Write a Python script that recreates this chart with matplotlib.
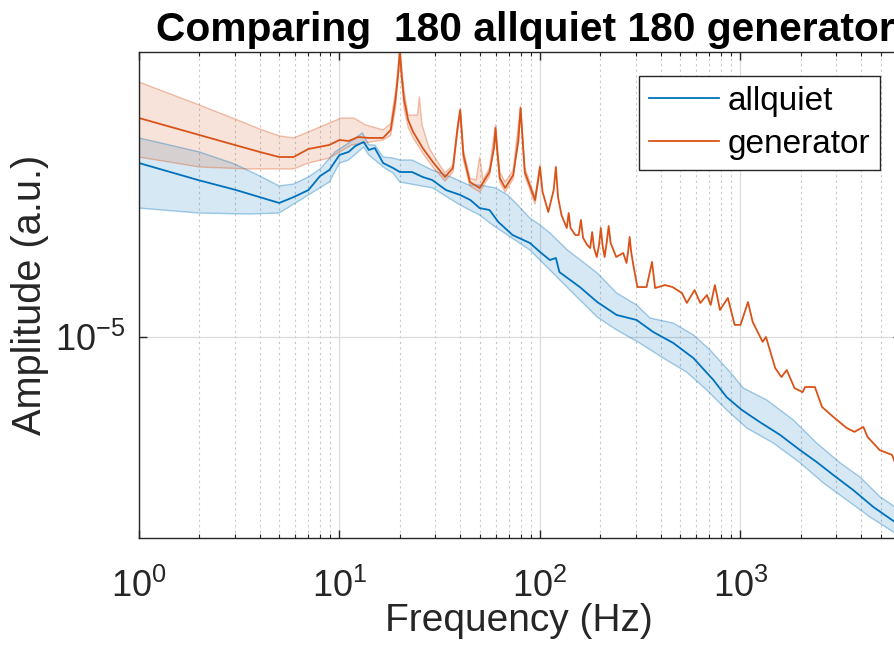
import numpy as np
import matplotlib
matplotlib.use("Agg")
import matplotlib.pyplot as plt
from matplotlib.ticker import LogLocator, NullLocator

plt.rcParams['font.family'] = ['Liberation Sans', 'DejaVu Sans']
plt.rcParams['mathtext.fontset'] = 'custom'
plt.rcParams['mathtext.rm'] = 'Liberation Sans'
plt.rcParams['axes.unicode_minus'] = False

SCALE = 1e-5  # values below are in units of 1e-5

# allquiet: mean, upper and lower bounds
q_freq = [1, 2, 3, 4, 5, 5.9, 7, 8, 8.9, 10,
          11.1, 12, 13.2, 14, 15, 16.5, 18.5, 20, 23, 26,
          29, 34, 40, 45, 50, 56, 62, 73, 89, 100,
          112, 120, 125, 158, 193, 241, 303, 367, 462, 582,
          732, 853, 1014, 1250, 1574, 1982, 2399, 2904, 3654, 4595,
          5900, 8000]
q_mean = [2.28, 2.10, 2.01, 1.94, 1.887, 1.94, 2.006, 2.144, 2.206, 2.369,
          2.403, 2.472, 2.519, 2.426, 2.448, 2.28, 2.227, 2.185, 2.185, 2.134,
          2.104, 2.006, 1.96, 1.913, 1.842, 1.825, 1.724, 1.621, 1.561, 1.496,
          1.44, 1.454, 1.36, 1.267, 1.18, 1.11, 1.084, 1.024, 0.972, 0.905,
          0.816, 0.752, 0.708, 0.668, 0.629, 0.585, 0.553, 0.52, 0.484, 0.447,
          0.416, 0.382]

q_up_freq = [1, 2, 3, 4, 5, 5.9, 7, 8, 9.5, 11.1,
             13, 14, 15, 16.5, 18.5, 20, 23, 29, 36, 44,
             50, 60, 69, 80, 89, 100, 112, 137, 193, 241,
             303, 354, 462, 582, 705, 887, 1033, 1351, 1834, 2399,
             3136, 3945, 4963, 5900, 8000]
q_up = [2.568, 2.403, 2.27, 2.145, 2.045, 2.064, 2.134, 2.217, 2.403, 2.507,
        2.63, 2.484, 2.484, 2.346, 2.335, 2.313, 2.313, 2.206, 2.134, 2.055,
        2.055, 2.026, 1.96, 1.842, 1.757, 1.70, 1.637, 1.51, 1.354, 1.232,
        1.164, 1.094, 1.068, 1.01, 0.94, 0.847, 0.785, 0.742, 0.675, 0.605,
        0.551, 0.515, 0.469, 0.447, 0.41]

q_lo_freq = [1, 2, 3.5, 5, 7, 8.9, 10, 11.1, 13.2, 14,
             16.8, 18.5, 20, 29.2, 40, 50, 58, 89, 112, 141,
             193, 241, 314, 412, 539, 678, 853, 1073, 1459, 1982,
             2589, 3388, 4430, 5900, 8000]
q_lo = [1.842, 1.799, 1.791, 1.799, 1.96, 2.084, 2.28, 2.313, 2.46, 2.369,
        2.227, 2.175, 2.084, 2.026, 1.868, 1.782, 1.70, 1.51, 1.374, 1.249,
        1.099, 1.034, 0.972, 0.905, 0.847, 0.778, 0.708, 0.65, 0.605, 0.551,
        0.501, 0.462, 0.426, 0.395, 0.365]

# generator: mean, upper and lower bounds
g_freq = [1, 2, 3, 4, 5, 5.9, 7, 8.9, 10, 11.1,
          12.4, 14, 16.5, 18, 19, 19.6, 20, 20.4, 21, 22,
          23.3, 26, 29.2, 33.6, 36.8, 38.8, 40, 41.5, 44.7, 50,
          56, 59, 60, 61, 63, 67, 73.5, 78, 80, 82,
          84, 94.5, 97, 100, 103, 110, 117, 120, 123, 128,
          136, 139, 142, 150, 156, 160, 164, 172, 178, 182,
          186, 192, 197, 201, 205, 210, 215, 220, 225, 240,
          260, 270, 275, 280, 285, 292, 306, 340, 362, 375,
          420, 458, 510, 540, 590, 630, 680, 710, 745, 790,
          865, 935, 1000, 1090, 1150, 1290, 1340, 1490, 1600, 1700,
          1860, 2040, 2100, 2350, 2550, 2900, 3380, 3700, 4100, 4300,
          4950, 5700, 5900, 8000]
g_mean = [2.822, 2.604, 2.484, 2.403, 2.346, 2.346, 2.437, 2.484, 2.543, 2.531,
          2.579, 2.568, 2.568, 2.667, 3.074, 3.46, 3.9, 3.46, 3.074, 2.796,
          2.642, 2.448, 2.292, 2.134, 2.227, 2.692, 2.931, 2.369, 2.084, 2.026,
          2.185, 2.45, 2.692, 2.45, 2.124, 2.026, 2.154, 2.531, 2.959, 2.531,
          2.185, 1.913, 2.055, 2.238, 1.988, 1.808, 2.006, 2.238, 1.94, 1.782,
          1.676, 1.799, 1.676, 1.621, 1.621, 1.741, 1.599, 1.546, 1.524, 1.644,
          1.524, 1.461, 1.546, 1.676, 1.546, 1.461, 1.561, 1.692, 1.561, 1.461,
          1.489, 1.42, 1.496, 1.606, 1.496, 1.406, 1.267, 1.267, 1.427, 1.261,
          1.279, 1.267, 1.232, 1.175, 1.249, 1.175, 1.22, 1.164, 1.279, 1.137,
          1.203, 1.059, 1.059, 1.18, 1.074, 0.977, 1.0, 0.863, 0.827, 0.855,
          0.785, 0.77, 0.789, 0.789, 0.718, 0.685, 0.65, 0.638, 0.653, 0.623,
          0.585, 0.572, 0.551, 0.508]

g_up_freq = [1, 2, 3, 4, 5, 5.9, 7, 8.9, 10.2, 11.8,
             13.5, 16.5, 18, 19, 20, 21, 22, 24.5, 25, 25.8,
             28, 30, 33.6, 36.8, 38.8, 40, 41.5, 44.7, 48, 50,
             52, 56, 60, 63, 67, 73.5, 80, 84, 94.5, 100]
g_up = [3.347, 3.001, 2.81, 2.679, 2.593, 2.568, 2.642, 2.756, 2.822, 2.822,
        2.731, 2.667, 2.75, 3.2, 3.9, 3.2, 2.862, 2.862, 3.117, 2.731,
        2.448, 2.335, 2.175, 2.259, 2.731, 2.959, 2.426, 2.124, 2.104, 2.346,
        2.104, 2.227, 2.731, 2.185, 2.084, 2.206, 2.988, 2.227, 1.94, 2.259]

g_lo_freq = [1, 2, 3.5, 5, 5.9, 7, 8.9, 10, 11.5, 13.2,
             16.5, 18, 19, 20, 21, 22, 23.3, 26, 29.2, 33.6,
             36.8, 38.8, 40, 41.5, 44.7, 50, 56, 60, 63, 67,
             73.5, 80, 84, 94.5, 100]
g_lo = [2.346, 2.238, 2.217, 2.217, 2.217, 2.28, 2.335, 2.403, 2.484, 2.507,
        2.543, 2.6, 2.95, 3.75, 2.95, 2.70, 2.568, 2.391, 2.238, 2.094,
        2.185, 2.642, 2.876, 2.313, 2.045, 1.988, 2.144, 2.642, 2.084, 1.988,
        2.114, 2.904, 2.144, 1.878, 2.206]

blue = '#0072BD'
orange = '#D95319'

fig = plt.figure(figsize=(8.95, 6.62), dpi=100)
ax_w = np.log10(6300) * 200.5 / 895
ax = fig.add_axes([139 / 895, 124 / 662, ax_w, 486 / 662])
ax.set_xscale('log')
ax.set_yscale('log')


def band(fu, up, fl, lo, color):
    xs = np.concatenate([fu, fl[::-1]])
    ys = np.concatenate([up, lo[::-1]]) * SCALE
    ax.fill(xs, ys, color=color, alpha=0.16, lw=0)
    ax.plot(fu, np.array(up) * SCALE, color=color, alpha=0.35, lw=1)
    ax.plot(fl, np.array(lo) * SCALE, color=color, alpha=0.35, lw=1)


band(q_up_freq, q_up, q_lo_freq, q_lo, blue)
band(g_up_freq, g_up, g_lo_freq, g_lo, orange)
l1, = ax.plot(q_freq, np.array(q_mean) * SCALE, color=blue, lw=1.3)
l2, = ax.plot(g_freq, np.array(g_mean) * SCALE, color=orange, lw=1.3)

ax.set_xlim(1, 6300)
ax.set_ylim(10 ** -5.4136, 10 ** -4.4136)
ax.yaxis.set_major_locator(LogLocator(base=10, numticks=5))
ax.yaxis.set_minor_locator(NullLocator())
ax.xaxis.set_minor_locator(LogLocator(base=10, subs=np.arange(2, 10), numticks=20))

ax.grid(True, which='major', color='#dcdcdc', lw=0.9, ls='-')
ax.grid(True, which='minor', axis='x', color='#c8c8c8', lw=0.8, ls=(0, (2, 3)))
ax.set_axisbelow(True)

for s in ax.spines.values():
    s.set_color('#262626')
    s.set_linewidth(1.0)
ax.tick_params(which='both', direction='in', top=True, right=True, colors='#262626', labelsize=26)
ax.tick_params(which='major', length=6, width=1)
ax.tick_params(which='minor', length=3, width=0.8)
ax.tick_params(axis='x', which='major', pad=22)
ax.tick_params(axis='y', which='major', pad=10)

ax.set_xlabel('Frequency (Hz)', fontsize=28, color='#262626')
ax.set_ylabel('Amplitude (a.u.)', fontsize=28.6, color='#262626')
ax.xaxis.set_label_coords((518.5 - 139) / (ax_w * 895), (538 - 603) / 486)
ax.yaxis.set_label_coords((49 - 139) / (ax_w * 895), 0.5)
ax.set_title('Comparing  180 allquiet 180 generator', fontsize=29.3, fontweight='bold',
             pad=8, x=(525 - 139) / (ax_w * 895))

leg = ax.legend([l1, l2], ['allquiet', 'generator'], loc='upper right',
                bbox_to_anchor=(880 / 895, 1 - 76 / 662), bbox_transform=fig.transFigure,
                borderaxespad=0, fontsize=24, handlelength=2.1, fancybox=False,
                framealpha=1, edgecolor='#262626', borderpad=0.3, labelspacing=0.35,
                handletextpad=0.25)
leg.get_frame().set_linewidth(1.0)

fig.savefig('out.png', dpi=100)
